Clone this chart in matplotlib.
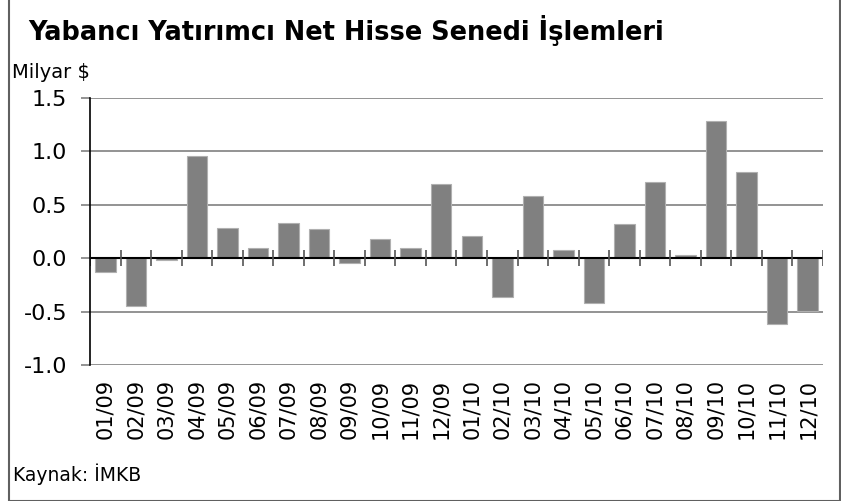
import numpy as np
import matplotlib
matplotlib.use('Agg')
import matplotlib.pyplot as plt
from matplotlib.patches import Rectangle

# aylik net alim/satim, milyar $
months = ['01/09', '02/09', '03/09', '04/09', '05/09', '06/09', '07/09', '08/09',
          '09/09', '10/09', '11/09', '12/09', '01/10', '02/10', '03/10', '04/10',
          '05/10', '06/10', '07/10', '08/10', '09/10', '10/10', '11/10', '12/10']
values = [-0.13, -0.45, -0.02, 0.96, 0.28, 0.10, 0.33, 0.27,
          -0.04, 0.18, 0.10, 0.69, 0.21, -0.36, 0.58, 0.08,
          -0.42, 0.32, 0.71, 0.03, 1.28, 0.81, -0.61, -0.49]
yticks = [-1.0, -0.5, 0.0, 0.5, 1.0, 1.5]

W, H = 841, 501
fig = plt.figure(figsize=(W / 100, H / 100), dpi=100)
ax = fig.add_axes([90 / W, 1 - 365.3 / H, (823 - 90) / W, (365.3 - 97.7) / H])

x = np.arange(len(months))
ax.bar(x, values, width=0.67, color='#808080', edgecolor='#b0b0b0', linewidth=0.8, zorder=3)

ax.set_xlim(-0.5, len(months) - 0.5)
ax.set_ylim(-1.0, 1.5)

# grid
for v in yticks:
    if v != 0:
        ax.axhline(v, color='#808080', lw=1.2, zorder=1)
ax.axhline(0, color='black', lw=1.5, zorder=4)
# category boundary ticks on the zero line
ax.vlines(np.arange(len(months) + 1) - 0.5, -0.075, 0.075, color='#555555', lw=1.2, zorder=4)

for s in ['top', 'right', 'bottom']:
    ax.spines[s].set_visible(False)
ax.spines['left'].set_color('black')
ax.spines['left'].set_linewidth(1.2)
ax.spines['left'].set_zorder(5)

ax.set_yticks(yticks)
ax.set_yticklabels(['%.1f' % v for v in yticks])
ax.tick_params(axis='y', direction='out', length=6.5, width=1.2, color='#808080',
               labelsize=16, pad=10)
ax.set_xticks(x)
ax.set_xticklabels(months, rotation=90)
ax.tick_params(axis='x', length=0, labelsize=15, pad=10)

title = fig.text(28 / W, 1 - 40 / H, 'Yabancı Yatırımcı Net Hisse Senedi İşlemleri',
                 fontsize=17, fontweight='bold', va='baseline', ha='left')
# fit title width to the reference (~637 px)
r = fig.canvas.get_renderer()
w = title.get_window_extent(r).width
title.set_fontsize(17 * 637 / w)

fig.text(12 / W, 1 - 78 / H, 'Milyar $', fontsize=14, va='baseline', ha='left')
fig.text(13 / W, 1 - 474 / H, 'Kaynak: İMKB', fontsize=13.5, va='center', ha='left')

# frame around the chart
fig.patches.append(Rectangle((8.5 / W, 0.5 / H), (840 - 8.5) / W, 1.1,
                             transform=fig.transFigure, fill=False,
                             edgecolor='#606060', lw=1.5))

fig.savefig('out.png', dpi=100)
